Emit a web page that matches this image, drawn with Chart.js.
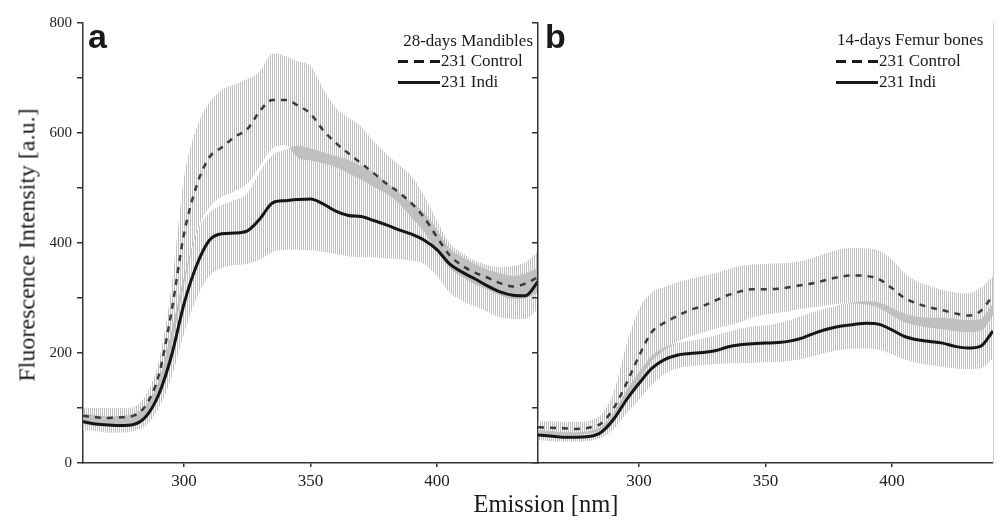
<!DOCTYPE html>
<html>
<head>
<meta charset="utf-8">
<script src="https://cdn.jsdelivr.net/npm/chart.js@4.4.1/dist/chart.umd.min.js"></script>
<style>
  body { margin: 0; background: #fff; }
  #wrap { position: relative; width: 1000px; height: 521px; overflow: hidden;
          font-family: "Liberation Serif", "Times New Roman", serif; color: #1a1a1a; }
  canvas { position: absolute; top: 0; }
  #chartA { left: 0; }
  #chartB { left: 532px; }
  .txt { position: absolute; white-space: nowrap; font-size: 17px; line-height: 20px; }
  .panel { position: absolute; font-family: "Liberation Sans", Arial, sans-serif; font-weight: bold;
           font-size: 34px; line-height: 1; }
  .dash { position: absolute; width: 42px; height: 3px;
          background: repeating-linear-gradient(90deg, #1a1a1a 0 10px, transparent 10px 16px); }
  .solid { position: absolute; width: 42px; height: 3px; background: #1a1a1a; }
  #ytitle { position: absolute; left: 27px; top: 245px; font-size: 24px; white-space: nowrap;
            transform: translate(-50%, -50%) rotate(-90deg); }
  #xtitle { position: absolute; left: 546px; top: 490px; font-size: 24.5px; line-height: 28px;
            transform: translateX(-50%); white-space: nowrap; }
</style>
</head>
<body>
<div id="wrap">
  <canvas id="chartA" width="540" height="521"></canvas>
  <canvas id="chartB" width="468" height="521"></canvas>

  <div class="panel" style="left:88px; top:19px;">a</div>
  <div class="panel" style="left:545px; top:19px;">b</div>

  <div class="txt" style="right:467px; top:31px;">28-days Mandibles</div>
  <div class="dash" style="left:398px; top:60px;"></div>
  <div class="txt" style="left:441px; top:51px;">231 Control</div>
  <div class="solid" style="left:398px; top:81px;"></div>
  <div class="txt" style="left:441px; top:72px;">231 Indi</div>

  <div class="txt" style="left:837px; top:30px;">14-days Femur bones</div>
  <div class="dash" style="left:836px; top:60px;"></div>
  <div class="txt" style="left:879px; top:51px;">231 Control</div>
  <div class="solid" style="left:836px; top:81px;"></div>
  <div class="txt" style="left:879px; top:72px;">231 Indi</div>

  <div id="ytitle">Fluorescence Intensity [a.u.]</div>
  <div id="xtitle">Emission [nm]</div>
</div>

<script>
// emission wavelengths (nm)
const wavelength = [260, 265, 270, 275, 280, 285, 290, 295, 300, 305, 310, 315, 320, 325, 330, 335, 340, 345, 350,
                    355, 360, 365, 370, 375, 380, 385, 390, 395, 400, 405, 410, 415, 420, 425, 430, 435, 440];

// a: 28-days Mandibles
const mandCtrl   = [86, 83, 82, 83, 86, 106, 160, 275, 417, 505, 556, 574, 593, 607, 640, 660, 660, 650, 635,
                    605, 582, 563, 545, 527, 508, 492, 472, 446, 411, 378, 359, 346, 337, 327, 321, 326, 338];
const mandCtrlHi = [100, 100, 100, 100, 102, 125, 185, 320, 520, 610, 655, 678, 688, 698, 712, 745, 740, 730, 722,
                    680, 645, 628, 612, 585, 562, 542, 522, 485, 441, 400, 382, 368, 360, 356, 358, 365, 385];
const mandCtrlLo = [70, 68, 67, 68, 72, 88, 125, 210, 325, 420, 465, 484, 494, 508, 540, 572, 578, 555, 550,
                    545, 538, 527, 515, 502, 490, 472, 446, 420, 385, 355, 338, 325, 315, 305, 298, 300, 310];
const mandIndi   = [75, 71, 69, 68, 70, 85, 125, 195, 290, 360, 405, 417, 418, 422, 444, 473, 477, 479, 480,
                    471, 458, 450, 448, 441, 433, 424, 416, 405, 388, 362, 347, 335, 322, 311, 305, 304, 330];
const mandIndiHi = [90, 87, 85, 86, 90, 105, 150, 240, 340, 420, 455, 469, 478, 490, 530, 560, 569, 577, 572,
                    565, 558, 551, 540, 528, 510, 492, 474, 455, 425, 390, 375, 362, 352, 345, 340, 345, 355];
const mandIndiLo = [60, 58, 55, 55, 58, 68, 100, 155, 235, 300, 340, 355, 360, 362, 370, 383, 388, 388, 387,
                    384, 380, 376, 374, 374, 372, 371, 368, 362, 340, 310, 295, 285, 275, 265, 262, 262, 280];

// b: 14-days Femur bones
const femurCtrl   = [65, 64, 63, 62, 64, 72, 100, 145, 195, 238, 255, 267, 278, 285, 295, 305, 312, 316, 316,
                     317, 320, 324, 328, 334, 339, 341, 340, 334, 318, 300, 290, 283, 278, 272, 268, 276, 305];
const femurCtrlHi = [76, 76, 75, 75, 77, 88, 130, 215, 280, 310, 320, 328, 334, 340, 345, 352, 358, 361, 362,
                     363, 364, 368, 375, 383, 389, 391, 390, 386, 370, 345, 330, 322, 315, 310, 308, 318, 340];
const femurCtrlLo = [54, 52, 51, 51, 53, 60, 78, 110, 150, 185, 205, 220, 230, 237, 244, 250, 256, 265, 270,
                     273, 277, 281, 284, 287, 290, 290, 288, 282, 268, 256, 250, 246, 243, 240, 238, 240, 268];
const femurIndi   = [51, 49, 47, 47, 48, 56, 80, 115, 145, 172, 188, 196, 199, 201, 204, 211, 215, 217, 218,
                     219, 222, 228, 237, 244, 249, 252, 254, 252, 242, 230, 224, 221, 218, 212, 209, 212, 240];
const femurIndiHi = [60, 58, 56, 56, 58, 66, 92, 132, 165, 195, 210, 218, 222, 226, 232, 238, 244, 248, 250,
                     254, 260, 268, 276, 282, 288, 292, 294, 292, 282, 272, 266, 264, 264, 262, 260, 262, 290];
const femurIndiLo = [42, 40, 39, 39, 40, 46, 62, 90, 115, 142, 162, 172, 176, 178, 180, 181, 182, 182, 183,
                     184, 186, 190, 196, 202, 206, 208, 208, 206, 198, 188, 182, 178, 175, 172, 171, 172, 190];

const xTicks = [300, 350, 400];
const yTicks = [0, 100, 200, 300, 400, 500, 600, 700, 800];

const axisColor = '#333';
const serif = '"Liberation Serif", "Times New Roman", serif';

// vertical hatching, like the dense error bars of the original
function stripes(offset) {
  const c = document.createElement('canvas');
  c.width = 2; c.height = 1;
  const g = c.getContext('2d');
  g.fillStyle = 'rgb(192,192,192)';
  g.fillRect(offset, 0, 1, 1);
  return g.createPattern(c, 'repeat');
}

function pts(ys) {
  return wavelength.map((x, i) => ({ x: x, y: ys[i] }));
}

function band(data, fill, pattern) {
  return {
    data: pts(data), fill: fill, backgroundColor: pattern,
    borderColor: 'rgba(0,0,0,0)', borderWidth: 0, pointRadius: 0,
    cubicInterpolationMode: 'monotone'
  };
}

function makePanel(id, s, showLabels) {
  const datasets = [
    { data: pts(s.ctrl), borderColor: '#3a3a3a', borderWidth: 2.5, borderDash: [6, 6],
      pointRadius: 0, fill: false, cubicInterpolationMode: 'monotone' },
    { data: pts(s.indi), borderColor: '#151515', borderWidth: 3,
      pointRadius: 0, fill: false, cubicInterpolationMode: 'monotone' },
    band(s.ctrlHi, '+1', stripes(0)),
    band(s.ctrlLo, false, 'rgba(0,0,0,0)'),
    band(s.indiHi, '+1', stripes(1)),
    band(s.indiLo, false, 'rgba(0,0,0,0)')
  ];

  const scales = {
    x: {
      type: 'linear', min: 260, max: 440,
      afterBuildTicks: sc => { sc.ticks = xTicks.map(v => ({ value: v })); },
      afterFit: sc => { sc.height = 58; },
      grid: { drawOnChartArea: false, drawTicks: true, tickLength: 4, color: axisColor, lineWidth: 1.5 },
      border: { display: true, color: axisColor, width: 1.5 },
      ticks: { color: '#222', font: { family: serif, size: 17 }, padding: 4, maxRotation: 0 }
    },
    y: {
      min: 0, max: 800,
      afterBuildTicks: sc => { sc.ticks = yTicks.map(v => ({ value: v })); },
      afterFit: sc => { sc.width = showLabels ? 83 : 6; },
      grid: { drawOnChartArea: false, drawTicks: true, tickLength: 6, color: axisColor, lineWidth: 1.5 },
      border: { display: true, color: axisColor, width: 1.5 },
      ticks: {
        display: showLabels, color: '#222', font: { family: serif, size: 15 }, padding: 5,
        callback: v => (v % 200 === 0 ? String(v) : '')
      }
    }
  };
  if (!showLabels) {
    scales.yr = {
      position: 'right', min: 0, max: 800,
      afterFit: sc => { sc.width = 0; },
      grid: { display: false },
      border: { display: true, color: '#cfcfcf', width: 1 },
      ticks: { display: false }
    };
  }

  return new Chart(document.getElementById(id), {
    type: 'line',
    data: { datasets: datasets },
    options: {
      responsive: false,
      animation: false,
      layout: { padding: { left: 0, right: showLabels ? 2 : 7, top: 23, bottom: 0 } },
      plugins: { legend: { display: false }, tooltip: { enabled: false } },
      scales: scales
    }
  });
}

makePanel('chartA', {
  ctrl: mandCtrl, ctrlHi: mandCtrlHi, ctrlLo: mandCtrlLo,
  indi: mandIndi, indiHi: mandIndiHi, indiLo: mandIndiLo
}, true);

makePanel('chartB', {
  ctrl: femurCtrl, ctrlHi: femurCtrlHi, ctrlLo: femurCtrlLo,
  indi: femurIndi, indiHi: femurIndiHi, indiLo: femurIndiLo
}, false);
</script>
</body>
</html>
